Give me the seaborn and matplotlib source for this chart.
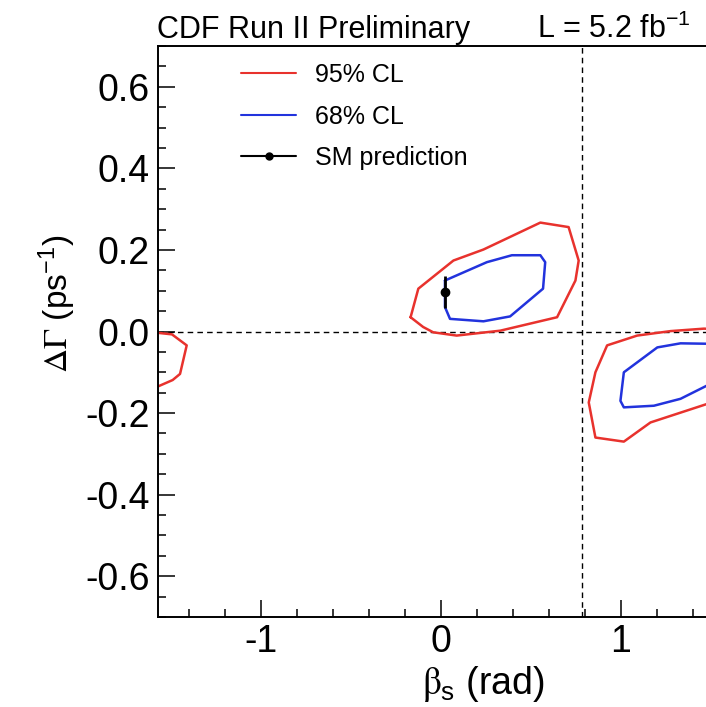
import numpy as np
import pandas as pd
import matplotlib
matplotlib.use("Agg")
import matplotlib.pyplot as plt
from matplotlib.lines import Line2D
from matplotlib.ticker import MultipleLocator
import seaborn as sns

# 95% CL contour around the SM-like solution
cl95_a_beta = [-0.169, -0.126, 0.069, 0.236, 0.552, 0.709, 0.765, 0.747, 0.645,
               0.329, 0.087, -0.043, -0.099, -0.169]
cl95_a_dg = [0.035, 0.105, 0.174, 0.201, 0.267, 0.256, 0.174, 0.125, 0.035,
             0.002, -0.010, -0.002, 0.011, 0.035]

# 95% CL contour around the second solution (continues past pi/2)
cl95_b_beta = [1.62, 1.461, 1.276, 1.090, 0.923, 0.858, 0.821, 0.858, 1.016,
               1.164, 1.476, 1.62]
cl95_b_dg = [0.004, 0.007, 0.001, -0.010, -0.034, -0.100, -0.174, -0.260, -0.270,
             -0.223, -0.178, -0.165]

# wrapped piece of the second 95% CL region near -pi/2
cl95_c_beta = [-1.60, -1.495, -1.413, -1.450, -1.491, -1.60]
cl95_c_dg = [-0.002, -0.007, -0.034, -0.104, -0.119, -0.14]

# 68% CL contours
cl68_a_beta = [0.022, 0.255, 0.394, 0.552, 0.579, 0.567, 0.384, 0.236, 0.050,
               0.022, 0.022]
cl68_a_dg = [0.125, 0.170, 0.187, 0.187, 0.170, 0.105, 0.037, 0.025, 0.031,
             0.060, 0.125]

cl68_b_beta = [1.60, 1.476, 1.331, 1.202, 1.016, 0.997, 1.016, 1.183, 1.331,
               1.476, 1.60]
cl68_b_dg = [-0.040, -0.030, -0.029, -0.039, -0.100, -0.170, -0.186, -0.182,
             -0.165, -0.133, -0.10]

# Standard Model expectation
sm_beta = [0.02]
sm_dg = [0.096]
sm_dg_err = [0.039]

x_ticks = [-1, 0, 1]
y_ticks = [-0.6, -0.4, -0.2, 0.0, 0.2, 0.4, 0.6]

sns.set_style("ticks")
plt.rcParams["font.family"] = ["Liberation Sans", "DejaVu Sans"]
plt.rcParams["mathtext.fontset"] = "stix"
plt.rcParams["mathtext.default"] = "regular"
for key in ["text.color", "axes.labelcolor", "xtick.color", "ytick.color",
            "xtick.labelcolor", "ytick.labelcolor", "axes.edgecolor"]:
    plt.rcParams[key] = "black"

RED = "#e8322d"
BLUE = "#2233dd"

W, H = 706, 707
fig = plt.figure(figsize=(W / 100, H / 100), dpi=100)
x_left, x_right = 158.3, 723.7
y_top, y_bot = 46.0, 617.0
ax = fig.add_axes([x_left / W, 1 - y_bot / H, (x_right - x_left) / W, (y_bot - y_top) / H])

lw = 1.8
contours = [
    (cl95_a_beta, cl95_a_dg, RED),
    (cl95_b_beta, cl95_b_dg, RED),
    (cl95_c_beta, cl95_c_dg, RED),
    (cl68_a_beta, cl68_a_dg, BLUE),
    (cl68_b_beta, cl68_b_dg, BLUE),
]
for xs, ys, col in contours:
    df = pd.DataFrame({"beta": xs, "dg": ys})
    sns.lineplot(data=df, x="beta", y="dg", sort=False, estimator=None,
                 color=col, lw=lw, ax=ax, legend=False)

# reference lines at dGamma = 0 and beta_s = pi/4
ax.axhline(0.0, color="black", lw=1.0, ls=(0, (4, 3)), zorder=1)
ax.axvline(np.pi / 4, color="black", lw=1.0, ls=(0, (4, 3)), zorder=1)

ax.errorbar(sm_beta, sm_dg, yerr=sm_dg_err, fmt="o", color="black",
            ms=6, elinewidth=2.0, capsize=0, zorder=5)

ax.set_xlim(-np.pi / 2, np.pi / 2)
ax.set_ylim(-0.7, 0.7)
ax.set_xticks(x_ticks)
ax.set_xticklabels([str(t) for t in x_ticks])
ax.set_yticks(y_ticks)
ax.set_yticklabels([f"{t:.1f}" for t in y_ticks])
ax.xaxis.set_minor_locator(MultipleLocator(0.2))
ax.yaxis.set_minor_locator(MultipleLocator(0.05))
ax.tick_params(which="both", direction="in", width=1.1, labelsize=27,
               top=False, right=False, color="black", labelcolor="black")
ax.tick_params(which="major", length=12)
ax.tick_params(which="minor", length=6)
ax.tick_params(axis="y", pad=6)
ax.tick_params(axis="x", pad=5)

for side in ["left", "bottom", "top", "right"]:
    ax.spines[side].set_color("black")
    ax.spines[side].set_linewidth(1.4)

ax.set_xlabel(r"$\mathrm{\beta}_{s}$ (rad)", fontsize=27)
ax.xaxis.set_label_coords((483 - x_left) / (x_right - x_left), -0.082)
ax.set_ylabel(r"$\mathrm{\Delta\Gamma}$ (ps$^{-1}$)", fontsize=24)
ax.yaxis.set_label_coords(-(x_left - 78) / (x_right - x_left), (y_bot - 304) / (y_bot - y_top))

handles = [
    Line2D([], [], color=RED, lw=1.5),
    Line2D([], [], color=BLUE, lw=1.5),
    Line2D([], [], color="black", lw=1.5, marker="o", ms=5),
]
labels = ["95% CL", "68% CL", "SM prediction"]
fig.legend(handles, labels, loc="upper left",
           bbox_to_anchor=(241 / W, 1 - 63 / H), bbox_transform=fig.transFigure,
           frameon=False, fontsize=18, borderpad=0, borderaxespad=0,
           handlelength=2.2, handletextpad=0.76, labelspacing=0.70)

fig.text(157 / W, 1 - 38 / H, "CDF Run II Preliminary", fontsize=22,
         ha="left", va="baseline")
fig.text(537 / W, 1 - 38 / H, r"L = 5.2 fb$^{-1}$", fontsize=22,
         ha="left", va="baseline")

fig.savefig("out.png", dpi=100, facecolor="white")
